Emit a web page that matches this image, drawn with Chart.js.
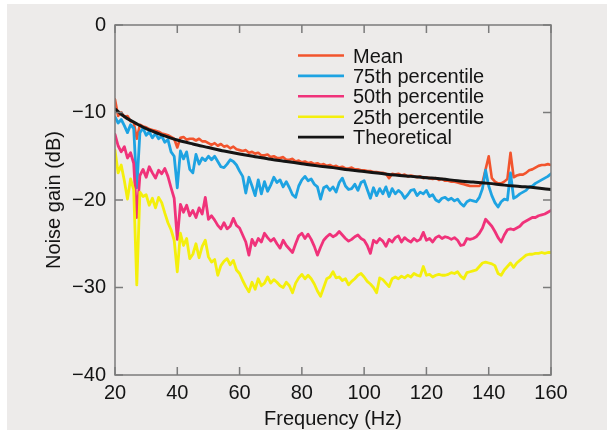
<!DOCTYPE html>
<html>
<head>
<meta charset="utf-8">
<script src="https://cdn.jsdelivr.net/npm/chart.js@4.4.1/dist/chart.umd.min.js"></script>
<style>
  html, body { margin: 0; padding: 0; background: #ffffff; }
  #wrap { position: relative; width: 607px; height: 435px; }
</style>
</head>
<body>
<div id="wrap"><canvas id="c" width="607" height="435"></canvas></div>
<script>
// ---- Data ----
const freq = [
  20,21,22,23,24,25,26,27,28,29,30,31,32,33,34,35,36,37,38,39,
  40,41,42,43,44,45,46,47,48,49,50,51,52,53,54,55,56,57,58,59,
  60,61,62,63,64,65,66,67,68,69,70,71,72,73,74,75,76,77,78,79,
  80,81,82,83,84,85,86,87,88,89,90,91,92,93,94,95,96,97,98,99,
  100,101,102,103,104,105,106,107,108,109,110,111,112,113,114,115,116,117,118,119,
  120,121,122,123,124,125,126,127,128,129,130,131,132,133,134,135,136,137,138,139,
  140,141,142,143,144,145,146,147,148,149,150,151,152,153,154,155,156,157,158,159,
  160
];

const meanGain = [
  -8.5,-10.4,-10.0,-10.5,-10.4,-11.0,-11.1,-13.0,-11.4,-11.6,
  -11.7,-11.9,-12.0,-12.1,-12.2,-12.4,-12.5,-12.6,-12.8,-13.0,
  -14.0,-12.9,-12.8,-13.1,-13.0,-13.0,-13.2,-13.0,-13.3,-13.3,
  -13.5,-13.7,-13.5,-13.8,-13.6,-13.9,-13.8,-14.1,-13.9,-14.2,
  -14.3,-14.4,-14.3,-14.6,-14.5,-14.7,-14.6,-14.9,-14.9,-14.8,
  -15.1,-15.0,-15.2,-15.2,-15.1,-15.4,-15.4,-15.3,-15.6,-15.5,
  -15.7,-15.6,-15.8,-15.7,-15.9,-15.8,-16.0,-15.9,-16.1,-16.0,
  -16.2,-16.1,-16.3,-16.2,-16.4,-16.4,-16.3,-16.5,-16.5,-16.6,
  -16.6,-16.7,-16.7,-16.8,-16.8,-16.9,-16.9,-17.0,-17.5,-17.0,
  -17.1,-17.0,-17.2,-17.1,-17.3,-17.2,-17.3,-17.4,-17.3,-17.5,
  -17.4,-17.5,-17.6,-17.5,-17.7,-17.6,-17.8,-17.8,-17.9,-17.9,
  -18.0,-18.1,-18.2,-18.3,-18.4,-18.4,-18.4,-18.4,-18.0,-16.5,
  -15.0,-17.5,-17.9,-18.1,-18.1,-17.9,-17.6,-14.6,-17.4,-17.2,
  -17.1,-17.1,-16.9,-16.6,-16.5,-16.3,-16.1,-16.0,-16.0,-15.9,
  -16.0
];

const p75Gain = [
  -10.5,-11.2,-10.8,-11.5,-12.3,-11.4,-11.8,-18.6,-12.3,-11.8,
  -12.6,-12.2,-12.9,-12.4,-13.0,-12.7,-13.4,-13.1,-14.5,-15.0,
  -18.6,-14.4,-15.3,-14.5,-16.5,-16.9,-14.8,-15.9,-15.2,-15.5,
  -15.0,-15.4,-15.0,-15.6,-16.2,-16.3,-15.9,-15.4,-15.6,-16.0,
  -16.7,-17.3,-19.2,-17.4,-18.4,-19.5,-17.7,-19.3,-17.9,-19.0,
  -18.3,-17.4,-18.0,-17.7,-18.5,-17.9,-18.6,-19.4,-19.7,-18.4,
  -17.7,-17.3,-17.8,-17.6,-18.2,-18.5,-19.9,-18.6,-18.4,-18.9,
  -18.5,-19.1,-18.0,-17.5,-18.4,-18.8,-18.7,-18.2,-18.9,-18.0,
  -17.8,-18.8,-19.8,-18.6,-19.5,-18.7,-19.3,-18.5,-19.6,-18.7,
  -19.3,-18.9,-19.2,-19.8,-19.4,-18.9,-18.8,-19.5,-19.1,-19.3,
  -18.9,-19.6,-19.4,-20.0,-20.2,-19.8,-19.7,-20.0,-19.8,-20.1,
  -19.9,-20.4,-20.7,-20.2,-20.0,-20.1,-20.2,-19.7,-18.7,-16.6,
  -18.4,-19.5,-20.3,-20.8,-20.2,-19.9,-20.0,-16.9,-19.8,-19.6,
  -19.3,-19.1,-18.9,-18.5,-18.4,-18.1,-17.9,-17.7,-17.5,-17.3,
  -17.0
];

const p50Gain = [
  -12.5,-13.8,-14.5,-13.9,-15.2,-14.6,-15.8,-22.0,-17.2,-16.5,
  -17.4,-16.2,-16.9,-17.5,-16.6,-17.0,-16.4,-17.3,-18.6,-19.8,
  -24.5,-20.5,-21.4,-20.6,-21.8,-21.2,-22.0,-20.9,-21.6,-19.7,
  -22.2,-21.8,-22.3,-22.9,-23.3,-22.6,-23.3,-23.0,-22.1,-22.9,
  -23.2,-24.0,-24.8,-26.3,-24.5,-25.2,-24.4,-24.8,-23.8,-24.3,
  -24.7,-24.4,-25.0,-25.5,-24.6,-25.2,-25.6,-26.0,-25.0,-24.1,
  -23.8,-24.4,-23.9,-24.5,-25.3,-26.3,-25.4,-24.6,-24.2,-23.9,
  -24.2,-24.0,-23.6,-24.0,-24.4,-24.7,-24.5,-24.2,-24.0,-24.4,
  -24.6,-25.2,-26.1,-24.6,-24.9,-24.4,-24.7,-25.3,-24.5,-24.8,
  -24.3,-24.1,-24.8,-24.3,-24.6,-24.8,-24.4,-24.7,-24.5,-23.7,
  -24.6,-24.4,-24.8,-24.3,-24.1,-24.4,-24.2,-24.3,-24.5,-24.3,
  -24.6,-25.2,-25.1,-24.4,-24.5,-24.4,-24.2,-23.8,-23.2,-22.2,
  -22.6,-23.0,-23.6,-24.3,-24.8,-24.0,-23.4,-23.3,-23.4,-23.2,
  -23.0,-22.6,-22.4,-22.2,-22.0,-22.0,-21.8,-21.7,-21.6,-21.4,
  -21.2
];

const p25Gain = [
  -14.3,-16.9,-16.0,-17.8,-19.9,-17.6,-18.8,-29.7,-19.1,-19.6,
  -19.4,-20.6,-19.8,-20.9,-19.7,-20.3,-21.5,-22.6,-23.4,-24.6,
  -28.2,-23.8,-25.2,-24.4,-26.7,-26.2,-25.0,-26.6,-25.3,-24.6,
  -26.5,-27.1,-26.8,-28.6,-27.5,-27.0,-26.7,-27.4,-26.9,-28.0,
  -28.4,-29.2,-29.9,-30.5,-29.4,-30.2,-29.0,-29.8,-29.5,-28.8,
  -29.5,-29.1,-29.4,-29.8,-30.0,-29.4,-29.8,-30.6,-29.5,-28.9,
  -28.5,-29.0,-28.6,-29.0,-29.6,-30.4,-31.0,-30.0,-29.0,-28.8,
  -28.2,-28.9,-28.8,-29.2,-29.0,-29.7,-29.3,-29.0,-28.6,-28.4,
  -28.8,-29.3,-29.6,-30.0,-30.6,-28.9,-29.1,-29.5,-29.9,-29.0,
  -28.8,-29.0,-28.7,-28.9,-28.6,-28.8,-28.4,-28.6,-28.7,-27.6,
  -28.6,-28.5,-28.8,-28.6,-28.5,-28.6,-28.6,-28.5,-28.3,-28.4,
  -28.2,-28.7,-29.0,-28.3,-28.2,-28.1,-28.0,-27.6,-27.2,-27.1,
  -27.2,-27.3,-27.5,-28.4,-28.6,-28.0,-27.6,-27.2,-27.7,-27.2,
  -26.9,-26.6,-26.3,-26.2,-26.2,-26.1,-26.1,-26.0,-26.1,-26.0,
  -26.0
];

const theoryFreq = [20,21,22,23,24,25,27,30,35,40,45,50,55,60,65,70,75,80,85,90,95,100,105,110,115,120,125,130,135,140,145,150,155,160];
const theoryGain = [-9.6,-9.9,-10.2,-10.45,-10.7,-10.9,-11.3,-11.85,-12.55,-13.15,-13.6,-14.0,-14.4,-14.75,-15.05,-15.35,-15.6,-15.85,-16.1,-16.3,-16.55,-16.75,-16.95,-17.15,-17.3,-17.45,-17.6,-17.8,-17.95,-18.1,-18.3,-18.45,-18.6,-18.8];

const seriesLabels = ['Mean', '75th percentile', '50th percentile', '25th percentile', 'Theoretical'];
const seriesColors = ['#f2542d', '#1ea3e2', '#f0327a', '#f4ef0c', '#141414'];

const xTickValues = [20, 40, 60, 80, 100, 120, 140, 160];
const yTickValues = [0, -10, -20, -30, -40];

// ---- helpers ----
const FONT = '"Liberation Sans", Arial, Helvetica, sans-serif';
const FSIZE = 20;
function pts(xs, ys) { return xs.map((x, i) => ({ x: x, y: ys[i] })); }

const bgPlugin = {
  id: 'bg',
  beforeDraw(chart) {
    const ctx = chart.ctx;
    ctx.save();
    ctx.fillStyle = '#ffffff';
    ctx.fillRect(0, 0, chart.width, chart.height);
    ctx.fillStyle = '#edebea';
    ctx.fillRect(7, 4, chart.width - 7, 426);
    ctx.restore();
  }
};

const framePlugin = {
  id: 'frame',
  afterDatasetsDraw(chart) {
    const { ctx, chartArea: a, scales } = chart;
    ctx.save();
    ctx.strokeStyle = '#7b7b7b';
    ctx.lineWidth = 1.5;
    ctx.strokeRect(a.left, a.top, a.right - a.left, a.bottom - a.top);
    const L = 8;
    ctx.beginPath();
    xTickValues.forEach(v => {
      const px = scales.x.getPixelForValue(v);
      ctx.moveTo(px, a.bottom); ctx.lineTo(px, a.bottom - L);
      ctx.moveTo(px, a.top); ctx.lineTo(px, a.top + L);
    });
    yTickValues.forEach(v => {
      const py = scales.y.getPixelForValue(v);
      ctx.moveTo(a.left, py); ctx.lineTo(a.left + L, py);
      ctx.moveTo(a.right, py); ctx.lineTo(a.right - L, py);
    });
    ctx.stroke();
    ctx.restore();
  }
};

const legendPlugin = {
  id: 'inlegend',
  afterDraw(chart) {
    const ctx = chart.ctx;
    ctx.save();
    ctx.font = FSIZE + 'px ' + FONT;
    ctx.textBaseline = 'middle';
    ctx.textAlign = 'left';
    chart.data.datasets.forEach((ds, i) => {
      const y = 55.5 + i * 20.4;
      ctx.strokeStyle = ds.borderColor;
      ctx.lineWidth = 2.6;
      ctx.beginPath();
      ctx.moveTo(298, y);
      ctx.lineTo(344, y);
      ctx.stroke();
      ctx.fillStyle = '#141414';
      ctx.fillText(ds.label, 353, y + 1.5);
    });
    ctx.restore();
  }
};

const datasets = [
  { label: seriesLabels[0], data: pts(freq, meanGain), borderColor: seriesColors[0], borderWidth: 2.6, order: 4 },
  { label: seriesLabels[1], data: pts(freq, p75Gain), borderColor: seriesColors[1], borderWidth: 2.8, order: 3 },
  { label: seriesLabels[2], data: pts(freq, p50Gain), borderColor: seriesColors[2], borderWidth: 2.8, order: 2 },
  { label: seriesLabels[3], data: pts(freq, p25Gain), borderColor: seriesColors[3], borderWidth: 2.8, order: 1 },
  { label: seriesLabels[4], data: pts(theoryFreq, theoryGain), borderColor: seriesColors[4], borderWidth: 3.0, order: 0, cubicInterpolationMode: 'monotone' }
].map(d => Object.assign({ pointRadius: 0, fill: false, tension: 0, borderJoinStyle: 'round', borderCapStyle: 'round' }, d));

new Chart(document.getElementById('c'), {
  type: 'line',
  data: { datasets: datasets },
  options: {
    responsive: false,
    animation: false,
    devicePixelRatio: 1,
    layout: { padding: { left: 0, top: 25, right: 56, bottom: 0 } },
    plugins: { legend: { display: false }, tooltip: { enabled: false } },
    scales: {
      x: {
        type: 'linear',
        min: 20, max: 160,
        afterBuildTicks(scale) { scale.ticks = xTickValues.map(v => ({ value: v })); },
        afterFit(scale) { scale.height = 60; },
        grid: { display: false, drawTicks: false },
        border: { display: false },
        ticks: { padding: 6, color: '#141414', font: { family: FONT, size: FSIZE }, maxRotation: 0 },
        title: { display: true, text: 'Frequency (Hz)', color: '#141414', font: { family: FONT, size: FSIZE }, padding: { top: 0, bottom: 4 } }
      },
      y: {
        min: -40, max: 0,
        afterBuildTicks(scale) { scale.ticks = yTickValues.map(v => ({ value: v })); },
        afterFit(scale) { scale.width = 115; },
        grid: { display: false, drawTicks: false },
        border: { display: false },
        ticks: {
          padding: 9, color: '#141414', font: { family: FONT, size: FSIZE },
          callback: v => String(v).replace('-', '\u2212')
        },
        title: { display: true, text: 'Noise gain (dB)', color: '#141414', font: { family: FONT, size: FSIZE }, padding: { top: 42, bottom: 0 } }
      }
    }
  },
  plugins: [bgPlugin, framePlugin, legendPlugin]
});
</script>
</body>
</html>
